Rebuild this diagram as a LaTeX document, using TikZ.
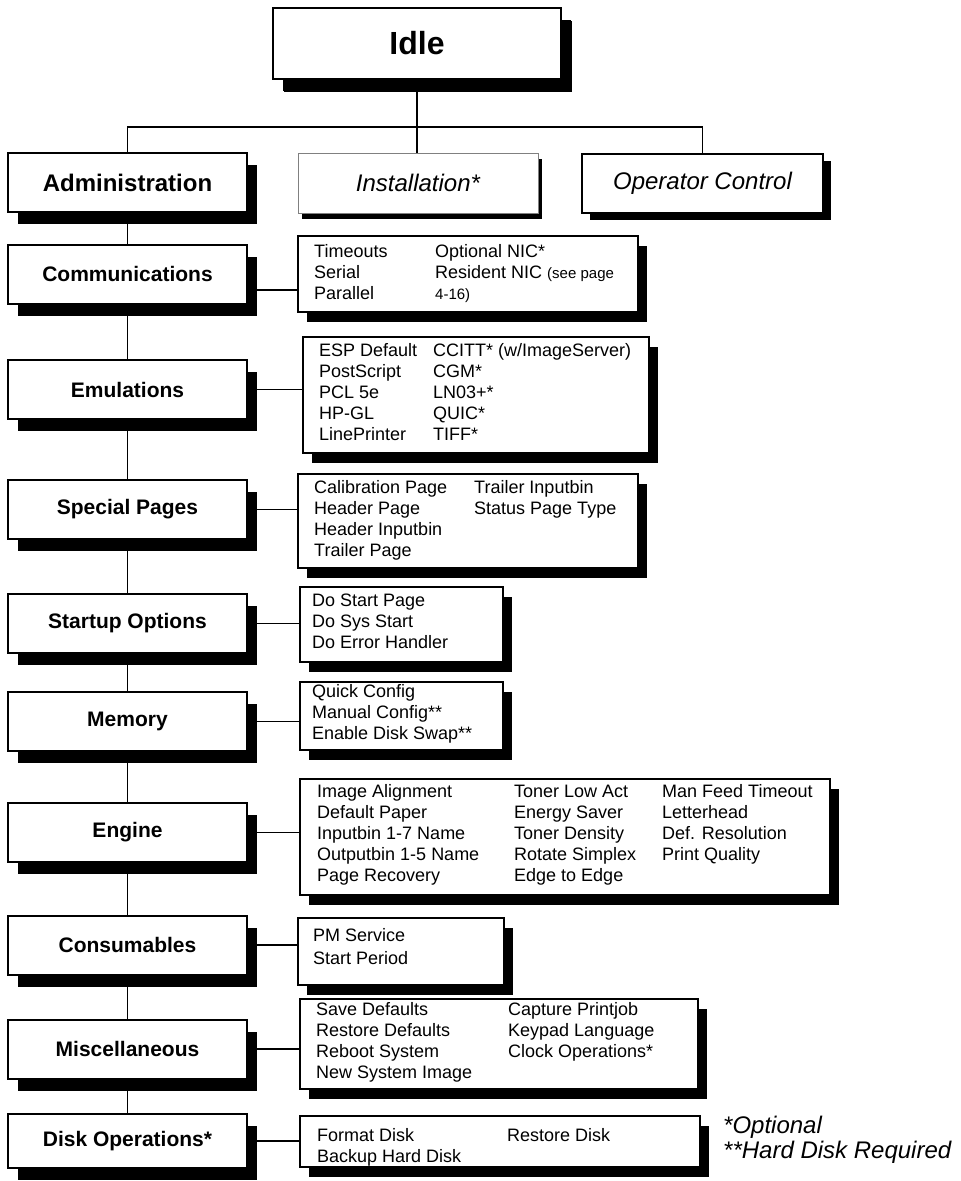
\documentclass[tikz,border=0pt]{standalone}
\usepackage{fontspec}
\setmainfont{Liberation Sans}
\usetikzlibrary{shadows}
\newcommand{\itemfont}{\fontsize{18}{21}\selectfont}
\begin{document}
\begin{tikzpicture}[x=1pt, y=-1pt,
    castshadow/.style 2 args={drop shadow={shadow xshift=#1, shadow yshift=-#2, opacity=1, fill=black}},
    menubox/.style={draw, line width=2pt, fill=white, minimum width=239pt, minimum height=59pt, inner sep=0pt, font=\fontsize{21}{25}\selectfont\bfseries, castshadow={10pt}{12pt}},
    subbox/.style={draw, line width=1.6pt, fill=white, anchor=north west, inner sep=0pt, castshadow={9pt}{10pt}},
    itemlist/.style={anchor=north west, inner sep=0pt, font=\itemfont},
    link/.style={line width=1.6pt}]
  \useasboundingbox (0,0) rectangle (961,1181);
  % top of the tree
  \node[menubox, minimum width=288pt, minimum height=71pt, font=\fontsize{32}{36}\selectfont\bfseries, castshadow={11pt}{13pt}] (idle) at (417,43.5) {Idle};
  \node[menubox, font=\fontsize{24}{28}\selectfont\bfseries] (admin) at (127.5,182.5) {Administration};
  \node[draw=gray, line width=1pt, fill=white, minimum width=240pt, minimum height=60pt, font=\fontsize{24}{28}\selectfont\itshape, castshadow={4pt}{6pt}] (install) at (418,183) {Installation*};
  \node[draw, line width=2pt, fill=white, minimum width=241pt, minimum height=59pt, font=\fontsize{24}{28}\selectfont\itshape, castshadow={8pt}{7pt}] (oper) at (702.5,183.5) {Operator Control};
  \coordinate (fork) at (417,127);
  \draw[line width=1.4pt] (idle.south) -- (idle.south |- install.north);
  \draw[line width=1.4pt] (admin.north) |- (fork) -| (oper.north);

  % administration menus
  \node[menubox] (comm) at (127.5,274) {Communications};
  \node[menubox] (emul) at (127.5,389.5) {Emulations};
  \node[menubox] (special) at (127.5,509.5) {Special Pages};
  \node[menubox] (startup) at (127.5,623.5) {Startup Options};
  \node[menubox] (memory) at (127.5,721.5) {Memory};
  \node[menubox] (engine) at (127.5,832.5) {Engine};
  \node[menubox] (consum) at (127.5,945) {Consumables};
  \node[menubox] (misc) at (127.5,1049) {Miscellaneous};
  \node[menubox, minimum height=54pt] (disk) at (127.5,1141) {Disk Operations*};
  \draw[link] (admin) -- (comm);
  \draw[link] (comm) -- (emul);
  \draw[link] (emul) -- (special);
  \draw[link] (special) -- (startup);
  \draw[link] (startup) -- (memory);
  \draw[link] (memory) -- (engine);
  \draw[link] (engine) -- (consum);
  \draw[link] (consum) -- (misc);
  \draw[link] (misc) -- (disk);

  % item boxes
  \node[subbox, minimum width=340pt, minimum height=76pt] (comm-menu) at (297,235) {};
  \node[itemlist] (comm-items) at (314,243) {\begin{tabular}{@{}p{121pt}@{}l@{}}
    Timeouts & Optional NIC*\\
    Serial & Resident NIC {\fontsize{15}{21}\selectfont (see page}\\
    Parallel & {\fontsize{15}{21}\selectfont 4-16)}
  \end{tabular}};
  \node[subbox, minimum width=346pt, minimum height=116pt] (emul-menu) at (302,336) {};
  \node[itemlist] (emul-items) at (319,342) {\begin{tabular}{@{}p{114pt}@{}l@{}}
    ESP Default & CCITT* (w/ImageServer)\\
    PostScript & CGM*\\
    PCL 5e & LN03+*\\
    HP-GL & QUIC*\\
    LinePrinter & TIFF*
  \end{tabular}};
  \node[subbox, minimum width=340pt, minimum height=94pt] (special-menu) at (297,473) {};
  \node[itemlist] (special-items) at (314,479) {\begin{tabular}{@{}p{160pt}@{}l@{}}
    Calibration Page & Trailer Inputbin\\
    Header Page & Status Page Type\\
    Header Inputbin & \\
    Trailer Page &
  \end{tabular}};
  \node[subbox, minimum width=203pt, minimum height=75pt] (startup-menu) at (299,586) {};
  \node[itemlist] (startup-items) at (312,592) {\begin{tabular}{@{}l@{}}
    Do Start Page\\
    Do Sys Start\\
    Do Error Handler
  \end{tabular}};
  \node[subbox, minimum width=203pt, minimum height=68pt] (memory-menu) at (299,681) {};
  \node[itemlist] (memory-items) at (312,683) {\begin{tabular}{@{}l@{}}
    Quick Config\\
    Manual Config**\\
    Enable Disk Swap**
  \end{tabular}};
  \node[subbox, minimum width=530pt, minimum height=116pt] (engine-menu) at (299,778) {};
  \node[itemlist] (engine-items) at (317,783) {\begin{tabular}{@{}p{197pt}@{}p{148pt}@{}l@{}}
    Image Alignment & Toner Low Act & Man Feed Timeout\\
    Default Paper & Energy Saver & Letterhead\\
    Inputbin 1-7 Name & Toner Density & Def. Resolution\\
    Outputbin 1-5 Name & Rotate Simplex & Print Quality\\
    Page Recovery & Edge to Edge &
  \end{tabular}};
  \node[subbox, minimum width=206pt, minimum height=67pt] (consum-menu) at (297,917) {};
  \node[itemlist, font=\fontsize{18}{23}\selectfont] (consum-items) at (313,925.4) {\begin{tabular}{@{}l@{}}
    PM Service\\
    Start Period
  \end{tabular}};
  \node[subbox, minimum width=398pt, minimum height=90pt] (misc-menu) at (299,998) {};
  \node[itemlist] (misc-items) at (316,1001) {\begin{tabular}{@{}p{192pt}@{}l@{}}
    Save Defaults & Capture Printjob\\
    Restore Defaults & Keypad Language\\
    Reboot System & Clock Operations*\\
    New System Image &
  \end{tabular}};
  \node[subbox, minimum width=400pt, minimum height=51pt] (disk-menu) at (299,1115) {};
  \node[itemlist] (disk-items) at (317,1127) {\begin{tabular}{@{}p{190pt}@{}l@{}}
    Format Disk & Restore Disk\\
    Backup Hard Disk &
  \end{tabular}};

  % menus to their items
  \coordinate (comm-tap) at ([yshift=-16pt]comm.east);
  \draw[link] (comm-tap) -- (comm-menu.west |- comm-tap);
  \draw[link] (emul.east) -- (emul-menu.west |- emul.east);
  \draw[link] (special.east) -- (special-menu.west |- special.east);
  \draw[link] (startup.east) -- (startup-menu.west |- startup.east);
  \draw[link] (memory.east) -- (memory-menu.west |- memory.east);
  \draw[link] (engine.east) -- (engine-menu.west |- engine.east);
  \draw[link] (consum.east) -- (consum-menu.west |- consum.east);
  \draw[link] (misc.east) -- (misc-menu.west |- misc.east);
  \draw[link] (disk.east) -- (disk-menu.west |- disk.east);

  \node[anchor=north west, inner sep=0pt, font=\fontsize{24}{24}\selectfont\itshape] (notes) at (723,1116) {\begin{tabular}{@{}l@{}}
    *Optional\\
    {**}Hard Disk Required
  \end{tabular}};
\end{tikzpicture}
\end{document}
